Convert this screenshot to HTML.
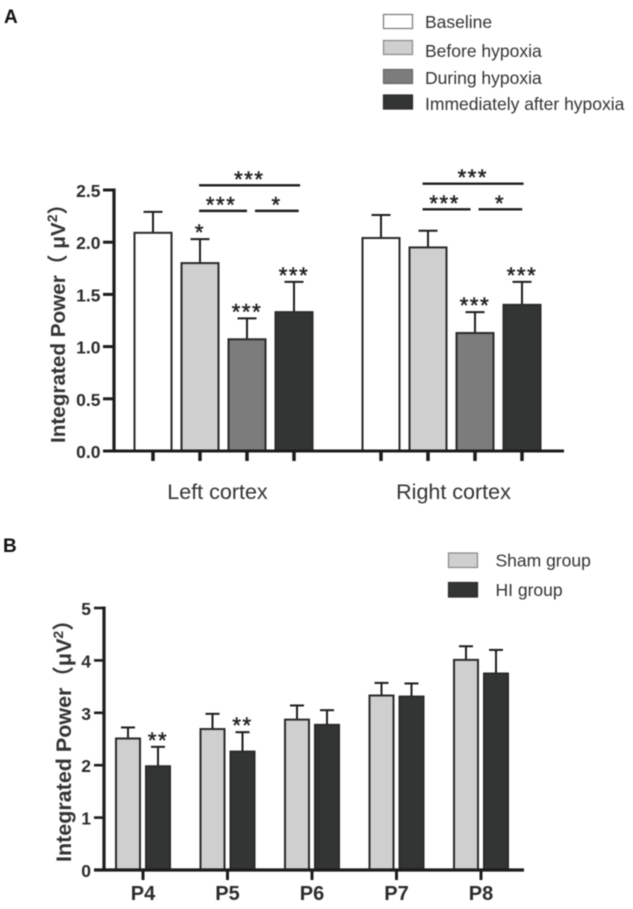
<!DOCTYPE html>
<html lang="en">
<head>
<meta charset="utf-8">
<title>Integrated Power bar charts</title>
<style>
  html, body { margin: 0; padding: 0; background: #fff; }
  body { width: 633px; height: 909px; overflow: hidden; }
  svg { display: block; filter: blur(0.5px); }
  text { font-family: "Liberation Sans", "Noto Sans CJK SC", sans-serif; fill: #2b2b2b; }
  .legend-text { font-size: 17.5px; fill: #333; }
  .tick { font-size: 17.5px; font-weight: bold; }
  .axis-title { font-size: 20.7px; font-weight: bold; fill: #333; }
  .group-label { font-size: 21.5px; fill: #333; }
  .stars { font-weight: normal; text-anchor: middle; letter-spacing: 1.6px; fill: #222; stroke: #222; stroke-width: 0.5px; }
</style>
</head>
<body>
<svg id="fig" width="633" height="909" viewBox="0 0 633 909" xmlns="http://www.w3.org/2000/svg">
  <rect width="633" height="909" fill="#fff"/>
  <text x="4" y="23" font-size="19" font-weight="bold" style="fill:#111">A</text>
  <text x="3" y="552" font-size="19" font-weight="bold" style="fill:#111">B</text>

  <g>
    <g>
      <rect x="383.5" y="14.5" width="29" height="14" fill="#fff" stroke="#777" stroke-width="1.2"/>
      <text class="legend-text" x="425" y="28">Baseline</text>
    </g>
    <g>
      <rect x="383.5" y="40.5" width="29" height="14" fill="#cfcfcf" stroke="#888" stroke-width="1.2"/>
      <text class="legend-text" x="425" y="57">Before hypoxia</text>
    </g>
    <g>
      <rect x="383.5" y="69.5" width="29" height="14" fill="#7c7c7c" stroke="#666" stroke-width="1.2"/>
      <text class="legend-text" x="425" y="84">During hypoxia</text>
    </g>
    <g>
      <rect x="383.5" y="95" width="29" height="14" fill="#333535" stroke="#2a2a2a" stroke-width="1.2"/>
      <text class="legend-text" x="425" y="110">Immediately after hypoxia</text>
    </g>
  </g>

  <g>
    <g>
      <rect x="448.5" y="553" width="29" height="14.5" fill="#cfcfcf" stroke="#888" stroke-width="1.2"/>
      <text class="legend-text" x="495.5" y="566.5">Sham group</text>
    </g>
    <g>
      <rect x="448.5" y="582.5" width="29" height="14.5" fill="#333535" stroke="#2a2a2a" stroke-width="1.2"/>
      <text class="legend-text" x="495.5" y="596">HI group</text>
    </g>
  </g>

  <text class="axis-title" transform="translate(65 443) rotate(-90)">Integrated Power（ μV<tspan dy="-8" font-size="14">2</tspan><tspan dy="8">）</tspan></text>
  <text class="axis-title" style="font-size:21.5px" transform="translate(71 862) rotate(-90)">Integrated Power（μV<tspan dy="-8" font-size="14">2</tspan><tspan dy="8">）</tspan></text>

  <g id="chartA"></g>
  <g id="chartB"></g>
</svg>

<script>
// Panel A data
const cortexCategories = ['Left cortex', 'Right cortex'];
const conditionNames = ['baseline', 'before-hypoxia', 'during-hypoxia', 'after-hypoxia'];
const baselineMeans = [2.09, 2.04];
const beforeMeans = [1.80, 1.95];
const duringMeans = [1.07, 1.13];
const afterMeans = [1.33, 1.40];
const baselineErrors = [0.20, 0.22];
const beforeErrors = [0.23, 0.16];
const duringErrors = [0.20, 0.20];
const afterErrors = [0.29, 0.22];
const baselineStars = ['', ''];
const beforeStars = ['*', ''];
const duringStars = ['***', '***'];
const afterStars = ['***', '***'];
const ticksA = [0, 0.5, 1, 1.5, 2, 2.5];
const tickLabelsA = ['0.0', '0.5', '1.0', '1.5', '2.0', '2.5'];
const bracketLevels = [2.545, 2.56];
const subBracketLevels = [2.30, 2.315];

// Panel B data
const dayCategories = ['P4', 'P5', 'P6', 'P7', 'P8'];
const shamMeans = [2.51, 2.69, 2.87, 3.33, 4.01];
const hiMeans = [1.98, 2.26, 2.77, 3.31, 3.75];
const shamErrors = [0.21, 0.29, 0.27, 0.24, 0.26];
const hiErrors = [0.37, 0.37, 0.28, 0.25, 0.45];
const hiStars = ['**', '**', '', '', ''];
const ticksB = [0, 1, 2, 3, 4, 5];

const SVG_NS = 'http://www.w3.org/2000/svg';
const fillsA = ['#ffffff', '#cfcfcf', '#7c7c7c', '#333535'];
const fillsB = ['#cfcfcf', '#333535'];
const INK = '#1c1c1c';

// Axis functions
function yA(v) { return 451 - v * 104.4; }
function xA(g, s) { return 223.5 + 228 * g + 47 * (s - 1.5); }
function xBracket(g, s) { return xA(g, s) - 4.5 * g; }
function yB(v) { return 870 - v * 52.4; }
function xBCenter(g) { return 143 + 84.5 * g; }
function xB(g, s) { return xBCenter(g) + (s === 0 ? -15 : 15); }

function make(parent, tag, attrs, text) {
  const el = document.createElementNS(SVG_NS, tag);
  Object.keys(attrs).forEach(function (k) { el.setAttribute(k, attrs[k]); });
  if (text !== undefined) el.textContent = text;
  parent.appendChild(el);
  return el;
}

function line(parent, name, x1, y1, x2, y2, width) {
  const el = make(parent, 'line', { x1: x1, y1: y1, x2: x2, y2: y2, stroke: INK, 'stroke-width': width });
  
  
  return el;
}

function drawBar(parent, name, cx, w, yTop, yBase, yErr, cap, fill) {
  const errStem = line(parent, name + '-error-stem', cx, yTop, cx, yErr, 2);
  const errCap = line(parent, name + '-error-cap', cx - cap / 2, yErr, cx + cap / 2, yErr, 2);
  const bar = make(parent, 'rect', { x: cx - w / 2, y: yTop, width: w, height: yBase - yTop, fill: fill, stroke: '#2a2a2a', 'stroke-width': 2 });
  
  
  return [errStem, errCap, bar];
}

function drawStars(parent, name, cx, centerY, stars, size) {
  if (!stars) return;
  const t = make(parent, 'text', { x: cx, y: centerY + size * 0.5, class: 'stars', style: 'font-size:' + size + 'px' }, stars);
  
  
}

// ---- Panel A ----
const gA = document.getElementById('chartA');
const meansA = [baselineMeans, beforeMeans, duringMeans, afterMeans];
const errorsA = [baselineErrors, beforeErrors, duringErrors, afterErrors];
const starsA = [baselineStars, beforeStars, duringStars, afterStars];

cortexCategories.forEach(function (cat, g) {
  conditionNames.forEach(function (cond, s) {
    const v = meansA[s][g];
    const top = v + errorsA[s][g];
    const cx = xA(g, s);
    drawBar(gA, 'bar-' + cond + '-' + (g === 0 ? 'left' : 'right'), cx, 37, yA(v), yA(0), yA(top), 19, fillsA[s]);
    line(gA, 'x-tick', cx, yA(0), cx, yA(0) + 10, 3.5);
    drawStars(gA, 'significance-' + cond, cx, yA(top) - 10, starsA[s][g], 22);
  });
  const label = make(gA, 'text', { x: xA(g, 1.5) - (g === 0 ? 6 : -2), y: 499, class: 'group-label', 'text-anchor': 'middle' }, cat);
  
  

  line(gA, 'bracket-top', xBracket(g, 0.98), yA(bracketLevels[g]), xBracket(g, 3.13), yA(bracketLevels[g]), 2.4);
  drawStars(gA, 'bracket-top-significance', xBracket(g, 2.05), yA(bracketLevels[g]) - 9.5, '***', 22);
  line(gA, 'bracket-left', xBracket(g, 0.98), yA(subBracketLevels[g]), xBracket(g, 2.0), yA(subBracketLevels[g]), 2.4);
  drawStars(gA, 'bracket-left-significance', xBracket(g, 1.45), yA(subBracketLevels[g]) - 9.5, '***', 22);
  line(gA, 'bracket-right', xBracket(g, 2.17), yA(subBracketLevels[g]), xBracket(g, 3.1), yA(subBracketLevels[g]), 2.4);
  drawStars(gA, 'bracket-right-significance', xBracket(g, 2.63), yA(subBracketLevels[g]) - 9.5, '*', 22);
});

line(gA, 'x-axis-a', 103, yA(0), 564, yA(0), 3);
line(gA, 'y-axis-a', 114, yA(2.5) - 1.5, 114, yA(0) + 1.5, 3.2);
ticksA.forEach(function (v, i) {
  line(gA, 'y-tick', 103, yA(v), 114, yA(v), 3);
  const t = make(gA, 'text', { x: 100.5, y: yA(v) + 7, class: 'tick', 'text-anchor': 'end' }, tickLabelsA[i]);
  
  
});

// ---- Panel B ----
const gB = document.getElementById('chartB');
dayCategories.forEach(function (cat, g) {
  drawBar(gB, 'bar-sham-' + cat.toLowerCase(), xB(g, 0), 24, yB(shamMeans[g]), yB(0), yB(shamMeans[g] + shamErrors[g]), 14, fillsB[0]);
  const hiTop = hiMeans[g] + hiErrors[g];
  drawBar(gB, 'bar-hi-' + cat.toLowerCase(), xB(g, 1), 24, yB(hiMeans[g]), yB(0), yB(hiTop), 14, fillsB[1]);
  drawStars(gB, 'significance-hi', xB(g, 1), yB(hiTop) - 10, hiStars[g], 22);
  line(gB, 'x-tick', xBCenter(g), yB(0), xBCenter(g), yB(0) + 10, 3);
  const t = make(gB, 'text', { x: xBCenter(g), y: 900, class: 'tick', 'text-anchor': 'middle', style: 'font-size:20px' }, cat);
  
  
});
line(gB, 'x-axis-b', 94, yB(0), 524, yB(0), 3.2);
line(gB, 'y-axis-b', 104, yB(5) - 1.5, 104, yB(0) + 1.5, 3.2);
ticksB.forEach(function (v) {
  line(gB, 'y-tick', 94, yB(v), 104, yB(v), 2.6);
  const t = make(gB, 'text', { x: 91, y: yB(v) + 7, class: 'tick', 'text-anchor': 'end' }, String(v));
  
  
});
</script>
</body>
</html>
